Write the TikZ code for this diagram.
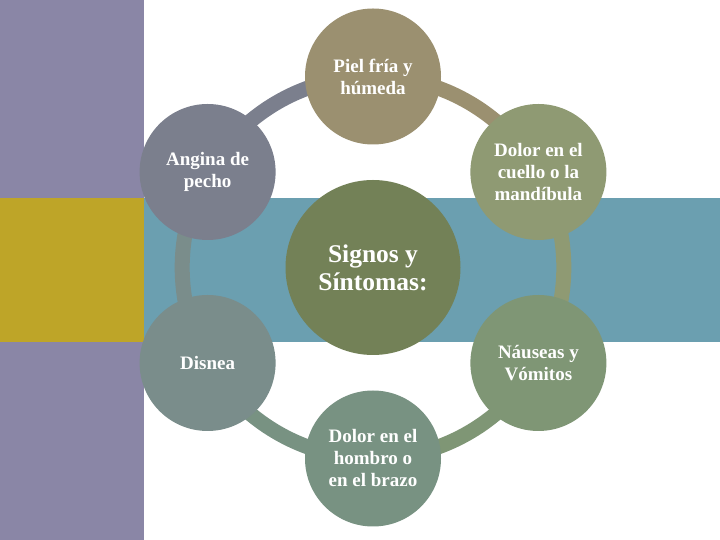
\documentclass[tikz,border=0pt]{standalone}
\usepackage{fontspec}
\setmainfont{Liberation Serif}
\usetikzlibrary{backgrounds}

\definecolor{stripPurple}{RGB}{138,134,166}
\definecolor{bandTeal}{RGB}{107,159,176}
\definecolor{bandYellow}{RGB}{190,165,40}
\definecolor{colPiel}{RGB}{155,144,112}
\definecolor{colAngina}{RGB}{123,127,141}
\definecolor{colCuello}{RGB}{143,154,115}
\definecolor{colSignos}{RGB}{115,129,87}
\definecolor{colNauseas}{RGB}{127,150,117}
\definecolor{colHombro}{RGB}{120,146,130}
\definecolor{colDisnea}{RGB}{122,141,139}

\tikzset{
  symptom/.style={circle, minimum size=136pt, inner sep=0pt, text=white,
    align=center, font=\fontsize{19}{22}\selectfont\bfseries},
  hub/.style={circle, minimum size=175pt, inner sep=0pt, text=white,
    align=center, font=\fontsize{25.5}{28}\selectfont\bfseries},
  ring/.style={line width=15pt},
}

\begin{document}
\begin{tikzpicture}[x=1pt,y=1pt]
\useasboundingbox (0,0) rectangle (720,540);

% ===== Fondo =====
\begin{pgfonlayer}{background}
\fill[stripPurple] (0,0) rectangle (144,540);
\fill[bandYellow] (0,198) rectangle (144,342);
\fill[bandTeal] (144,198) rectangle (720,342);
\end{pgfonlayer}

% ===== Circulos =====
\node[hub, fill=colSignos] (signos) at (373,272.5) {Signos y\\Síntomas:};

\node[symptom, fill=colPiel] (piel) at (373,463.5) {Piel fría y\\húmeda};
\node[symptom, fill=colCuello] (cuello) at (538.4,368) {Dolor en el\\cuello o la\\mandíbula};
\node[symptom, fill=colNauseas] (nauseas) at (538.4,177) {Náuseas y\\Vómitos};
\node[symptom, fill=colHombro] (hombro) at (373,81.5) {Dolor en el\\hombro o\\en el brazo};
\node[symptom, fill=colDisnea] (disnea) at (207.6,177) {Disnea};
\node[symptom, fill=colAngina] (angina) at (207.6,368) {Angina de\\pecho};

% ===== Anillo =====
\begin{pgfonlayer}{background}
\foreach \from/\to/\col in {angina/piel/colAngina, piel/cuello/colPiel,
    cuello/nauseas/colCuello, nauseas/hombro/colNauseas,
    hombro/disnea/colHombro, disnea/angina/colDisnea} {
    \draw[ring, \col] (\from.center) to[bend left=30, looseness=0.91] (\to.center);
}
\end{pgfonlayer}

\end{tikzpicture}
\end{document}
